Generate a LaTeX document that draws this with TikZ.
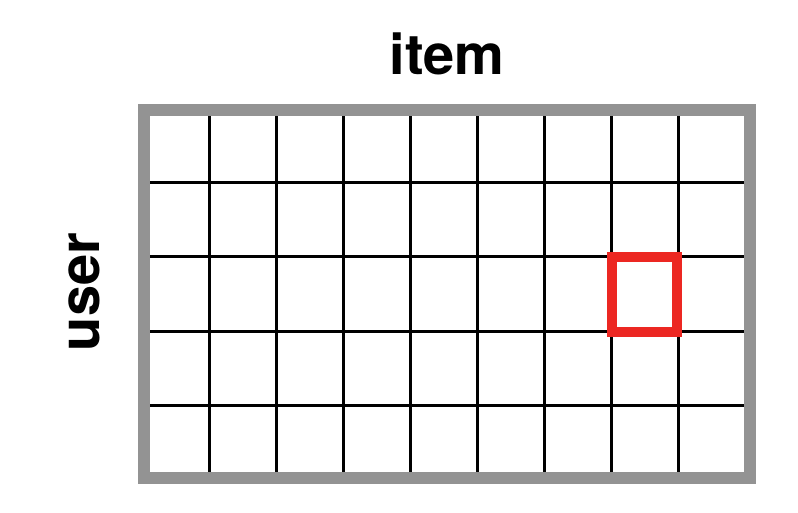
\documentclass[tikz,border=0pt]{standalone}
\usepackage{fontspec}
\setmainfont{TeX Gyre Heros}
\definecolor{framegray}{HTML}{939393}
\definecolor{hired}{HTML}{EC2722}
\tikzset{
  gridline/.style={line width=3pt, black},
  frameline/.style={line width=12pt, framegray},
  hilite/.style={line width=10pt, hired},
  axislabel/.style={font=\fontsize{56}{60}\selectfont\bfseries, inner sep=0pt, text=black}
}
\begin{document}
\begin{tikzpicture}[x=1pt,y=-1pt]
\useasboundingbox (0,0) rectangle (798,512);
% grid lines
\foreach \x in {209,276,343,410,477,544,611,678}
  \draw[gridline] (\x,116) -- (\x,472);
\foreach \y in {182,256.5,331,405.5}
  \draw[gridline] (150,\y) -- (744,\y);
% frame
\draw[frameline] (144,110) rectangle (750,477.5);
% highlighted cell
\draw[hilite] (612,257) rectangle (677,332);
% labels
\node[axislabel, anchor=base] (item) at (447,74) {item};
\node[axislabel, anchor=base, rotate=90] (user) at (99,292) {user};
\end{tikzpicture}
\end{document}
